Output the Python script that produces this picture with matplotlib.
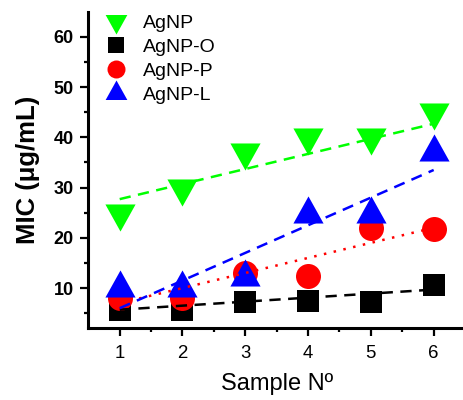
import numpy as np
import matplotlib
matplotlib.use("Agg")
import matplotlib.pyplot as plt
from matplotlib.path import Path

plt.rcParams['font.family'] = ['Liberation Sans', 'DejaVu Sans']

# data
samples = [1, 2, 3, 4, 5, 6]
agnp = [25, 30, 37, 40, 40, 45]
agnp_o = [5.7, 5.7, 7.2, 7.4, 7.3, 10.7]
agnp_p = [8, 8, 13, 12.5, 22, 21.7]
agnp_l = [10, 10, 12.3, 24.8, 24.8, 37]

# trend lines (value at first / last sample)
trend_x = [1, 6]
trend_agnp = [27.7, 42.7]
trend_agnp_o = [5.7, 9.7]
trend_agnp_p = [7.0, 22.0]
trend_agnp_l = [6.0, 33.5]

# triangles centred on their centroid (like Origin does)
tri_down = Path([(-1.67, 1), (1.67, 1), (0, -2), (-1.67, 1)],
                [Path.MOVETO, Path.LINETO, Path.LINETO, Path.CLOSEPOLY])
tri_up = Path([(-1.67, -1), (1.67, -1), (0, 2), (-1.67, -1)],
              [Path.MOVETO, Path.LINETO, Path.LINETO, Path.CLOSEPOLY])

fig = plt.figure(figsize=(4.63, 4.0), dpi=100)
ax = fig.add_axes([0.1907, 0.1793, 0.8138, 0.7915])

ax.plot(samples, agnp, linestyle='none', marker=tri_down, markersize=26,
        color='#00ff00', markeredgewidth=0, label='AgNP', zorder=2)
ax.plot(samples, agnp_o, linestyle='none', marker='s', markersize=16.3,
        color='black', markeredgewidth=0, label='AgNP-O', zorder=2)
ax.plot(samples, agnp_p, linestyle='none', marker='o', markersize=18,
        color='#ff0000', markeredgewidth=0, label='AgNP-P', zorder=2)
ax.plot(samples, agnp_l, linestyle='none', marker=tri_up, markersize=26,
        color='#0000ff', markeredgewidth=0, label='AgNP-L', zorder=2)

# trend lines on top of the markers
ax.plot(trend_x, trend_agnp, color='#00ff00', lw=1.8, linestyle=(0, (4.5, 3)), zorder=3)
ax.plot(trend_x, trend_agnp_o, color='black', lw=1.8, linestyle=(0, (4.5, 3)), zorder=3)
ax.plot(trend_x, trend_agnp_p, color='#ff0000', lw=1.8, linestyle=(0, (1, 3)), zorder=3)
ax.plot(trend_x, trend_agnp_l, color='#0000ff', lw=1.8, linestyle=(0, (4.5, 3)), zorder=3)

ax.set_xlim(0.5, 6.5)
ax.set_ylim(2, 65)
ax.set_xticks(samples)
ax.set_xticks(np.arange(1.5, 6.5, 1), minor=True)
ax.set_yticks([10, 20, 30, 40, 50, 60])
ax.set_yticks(np.arange(5, 65, 5), minor=True)

for s in ['top', 'right']:
    ax.spines[s].set_visible(False)
for s in ['left', 'bottom']:
    ax.spines[s].set_linewidth(2.2)
ax.spines['bottom'].set_clip_on(False)

ax.tick_params(which='major', direction='out', length=5.8, width=1.6)
ax.tick_params(which='minor', direction='out', length=3.2, width=1.6)
ax.tick_params(axis='x', labelsize=13.4, pad=6)
ax.tick_params(axis='y', labelsize=13, pad=4.5)
for t in ax.get_yticklabels():
    t.set_fontweight('bold')

ax.set_xlabel('Sample Nº', fontsize=17, labelpad=8)
ax.set_ylabel('MIC (μg/mL)', fontsize=18.5, fontweight='bold', labelpad=10)

ax.legend(loc='upper left', bbox_to_anchor=(0.05, 0.993), frameon=False,
          fontsize=14, markerscale=0.72, handlelength=0.95, handletextpad=0.9,
          labelspacing=0.33, borderpad=0, borderaxespad=0)

fig.savefig('out.png', dpi=100, facecolor='white')
